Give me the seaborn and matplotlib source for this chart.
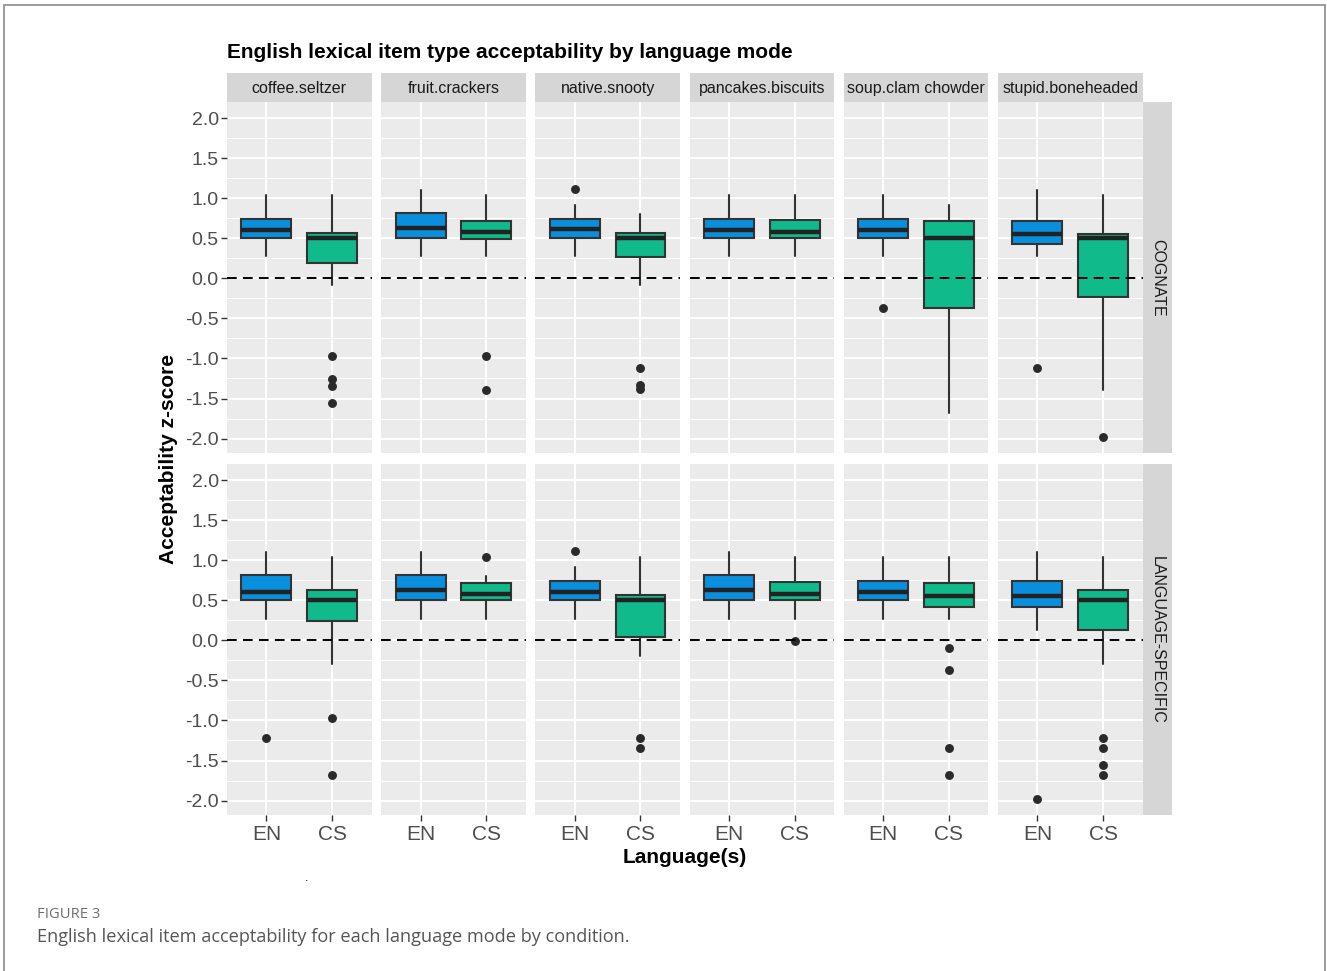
import matplotlib
matplotlib.use("Agg")
import matplotlib.pyplot as plt
from matplotlib.patches import Rectangle
import seaborn as sns

# ---- data: five-number summaries and outliers per item, condition and mode ----
items = ["coffee.seltzer", "fruit.crackers", "native.snooty",
         "pancakes.biscuits", "soup.clam chowder", "stupid.boneheaded"]
conditions = ["COGNATE", "LANGUAGE-SPECIFIC"]
modes = ["EN", "CS"]
ytick_vals = [-2.0, -1.5, -1.0, -0.5, 0.0, 0.5, 1.0, 1.5, 2.0]

# COGNATE, English mode
cog_en_whislo = [0.28, 0.28, 0.28, 0.28, 0.28, 0.28]
cog_en_q1     = [0.50, 0.50, 0.50, 0.50, 0.50, 0.43]
cog_en_med    = [0.60, 0.63, 0.61, 0.60, 0.60, 0.55]
cog_en_q3     = [0.74, 0.81, 0.74, 0.74, 0.74, 0.72]
cog_en_whishi = [1.04, 1.10, 0.91, 1.04, 1.04, 1.10]
cog_en_fliers = [[], [], [1.11], [], [-0.375], [-1.12]]

# COGNATE, code-switched mode
cog_cs_whislo = [-0.08, 0.28, -0.08, 0.28, -1.675, -1.40]
cog_cs_q1     = [0.19, 0.49, 0.26, 0.50, -0.375, -0.23]
cog_cs_med    = [0.50, 0.575, 0.50, 0.575, 0.50, 0.50]
cog_cs_q3     = [0.56, 0.72, 0.56, 0.73, 0.72, 0.555]
cog_cs_whishi = [1.04, 1.04, 0.80, 1.04, 0.91, 1.04]
cog_cs_fliers = [[-0.97, -1.26, -1.34, -1.55], [-0.97, -1.40],
                 [-1.12, -1.33, -1.38], [], [], [-1.98]]

# LANGUAGE-SPECIFIC, English mode
ls_en_whislo = [0.27, 0.27, 0.27, 0.27, 0.27, 0.125]
ls_en_q1     = [0.50, 0.50, 0.50, 0.50, 0.50, 0.42]
ls_en_med    = [0.60, 0.63, 0.60, 0.63, 0.60, 0.55]
ls_en_q3     = [0.82, 0.82, 0.74, 0.82, 0.74, 0.74]
ls_en_whishi = [1.10, 1.10, 0.91, 1.10, 1.04, 1.10]
ls_en_fliers = [[-1.225], [], [1.11], [], [], [-1.98]]

# LANGUAGE-SPECIFIC, code-switched mode
ls_cs_whislo = [-0.29, 0.27, -0.196, 0.27, 0.27, -0.29]
ls_cs_q1     = [0.245, 0.50, 0.04, 0.50, 0.42, 0.13]
ls_cs_med    = [0.50, 0.575, 0.50, 0.575, 0.55, 0.50]
ls_cs_q3     = [0.625, 0.72, 0.57, 0.73, 0.72, 0.63]
ls_cs_whishi = [1.04, 0.80, 1.04, 1.04, 1.04, 1.04]
ls_cs_fliers = [[-0.97, -1.68], [1.045], [-1.225, -1.34], [-0.01],
                [-0.09, -0.37, -1.34, -1.68], [-1.225, -1.34, -1.55, -1.68]]

summaries = {
    ("COGNATE", "EN"): (cog_en_whislo, cog_en_q1, cog_en_med, cog_en_q3, cog_en_whishi, cog_en_fliers),
    ("COGNATE", "CS"): (cog_cs_whislo, cog_cs_q1, cog_cs_med, cog_cs_q3, cog_cs_whishi, cog_cs_fliers),
    ("LANGUAGE-SPECIFIC", "EN"): (ls_en_whislo, ls_en_q1, ls_en_med, ls_en_q3, ls_en_whishi, ls_en_fliers),
    ("LANGUAGE-SPECIFIC", "CS"): (ls_cs_whislo, ls_cs_q1, ls_cs_med, ls_cs_q3, ls_cs_whishi, ls_cs_fliers),
}

mode_colors = {"EN": "#0A8FDE", "CS": "#10BA8B"}

# ---- styling ----
sns.set_theme(style="darkgrid")
plt.rcParams["font.family"] = ["Liberation Sans", "DejaVu Sans"]

W, H = 1327, 971
fig = plt.figure(figsize=(W / 100, H / 100), dpi=100)
fig.patch.set_facecolor("white")

def fx(px):
    return px / W

def fy(py):
    return 1 - py / H

panel_left0 = 227
panel_step = 154.2
panel_w = 144.5
row_tops = [102, 464]
panel_h = 351
strip_h = 29
strip_w = 29
ylims = (-2.18, 2.2)

GRID_BG = "#EBEBEB"
STRIP_BG = "#D6D6D6"
EDGE = "#333333"

for r, cond in enumerate(conditions):
    for c, item in enumerate(items):
        left = panel_left0 + c * panel_step
        top = row_tops[r]
        ax = fig.add_axes([fx(left), fy(top + panel_h), fx(panel_w), panel_h / H])
        ax.set_facecolor(GRID_BG)
        for s in ax.spines.values():
            s.set_visible(False)

        stats = []
        for m in modes:
            wl, q1, med, q3, wh, fl = summaries[(cond, m)]
            stats.append(dict(whislo=wl[c], q1=q1[c], med=med[c], q3=q3[c],
                              whishi=wh[c], fliers=fl[c], label=m))

        ax.set_xlim(0.4, 2.6)
        ax.set_ylim(*ylims)

        # ggplot-like grid: major + minor white lines
        ax.set_yticks(ytick_vals)
        ax.set_yticks([v + 0.25 for v in ytick_vals[:-1]], minor=True)
        ax.set_xticks([1, 2])
        ax.grid(which="major", color="white", linewidth=1.4)
        ax.grid(which="minor", axis="y", color="white", linewidth=0.75)
        ax.set_axisbelow(True)

        bp = ax.bxp(stats, positions=[1, 2], widths=0.76, patch_artist=True,
                    showcaps=False, manage_ticks=False,
                    boxprops=dict(edgecolor=EDGE, linewidth=1.5),
                    whiskerprops=dict(color=EDGE, linewidth=1.5),
                    medianprops=dict(color="#222222", linewidth=3.2),
                    flierprops=dict(marker="o", markerfacecolor="#2A2A2A",
                                    markeredgecolor="#2A2A2A", markersize=5.4))
        for patch, m in zip(bp["boxes"], modes):
            patch.set_facecolor(mode_colors[m])
            patch.set_zorder(2)
        for ln in bp["medians"]:
            ln.set_zorder(3)

        ax.axhline(0, color="black", linewidth=1.4, linestyle=(0, (5, 3.2)), zorder=4)

        ax.tick_params(axis="both", which="both", length=0, colors="#333333")
        if c == 0:
            ax.tick_params(axis="y", which="major", length=4, width=1, color="#333333",
                           labelsize=14, labelcolor="#4D4D4D", pad=2, left=True)
            ax.set_yticklabels([f"{v:.1f}" for v in ytick_vals])
        else:
            ax.set_yticklabels([])
        if r == 1:
            ax.tick_params(axis="x", which="major", length=4, width=1, color="#333333",
                           labelsize=15, labelcolor="#4D4D4D", pad=3, bottom=True)
            ax.set_xticklabels(modes)
        else:
            ax.set_xticklabels([])

        # top strip with item name
        if r == 0:
            sax = fig.add_axes([fx(left), fy(top), fx(panel_w), strip_h / H])
            sax.set_facecolor(STRIP_BG)
            sax.set_xticks([]); sax.set_yticks([])
            for s in sax.spines.values():
                s.set_visible(False)
            sax.text(0.5, 0.47, item, ha="center", va="center", fontsize=11.5,
                     color="#1A1A1A", transform=sax.transAxes)

        # right strip with condition
        if c == len(items) - 1:
            rax = fig.add_axes([fx(left + panel_w + 0.5), fy(top + panel_h), fx(strip_w), panel_h / H])
            rax.set_facecolor(STRIP_BG)
            rax.set_xticks([]); rax.set_yticks([])
            for s in rax.spines.values():
                s.set_visible(False)
            rax.text(0.5, 0.5, cond, ha="center", va="center", rotation=-90,
                     fontsize=11.5, color="#1A1A1A", transform=rax.transAxes)

# titles
fig.text(fx(227), fy(53), "English lexical item type acceptability by language mode",
         ha="left", va="center", fontsize=15, fontweight="bold", color="black")
fig.text(fx(168), fy(459), "Acceptability z-score", ha="center", va="center",
         rotation=90, fontsize=15, fontweight="bold", color="black")
fig.text(fx(685), fy(857), "Language(s)", ha="center", va="center",
         fontsize=15, fontweight="bold", color="black")

# stray mark and caption
fig.text(fx(307), fy(878), ".", ha="center", va="center", fontsize=9, color="black")
fig.text(fx(37), fy(914), "FIGURE 3", ha="left", va="center", fontsize=10.6,
         color="#6E6E6E", family=["Open Sans", "DejaVu Sans"])
fig.text(fx(37), fy(937), "English lexical item acceptability for each language mode by condition.",
         ha="left", va="center", fontsize=13.1, color="#555555",
         family=["Open Sans", "DejaVu Sans"])

# figure frame
fig.patches.append(Rectangle((fx(4), fy(985)), fx(1321), (985 - 5) / H,
                             transform=fig.transFigure, fill=False,
                             edgecolor="#8A8A8A", linewidth=1.2))

fig.savefig("out.png", dpi=100)
